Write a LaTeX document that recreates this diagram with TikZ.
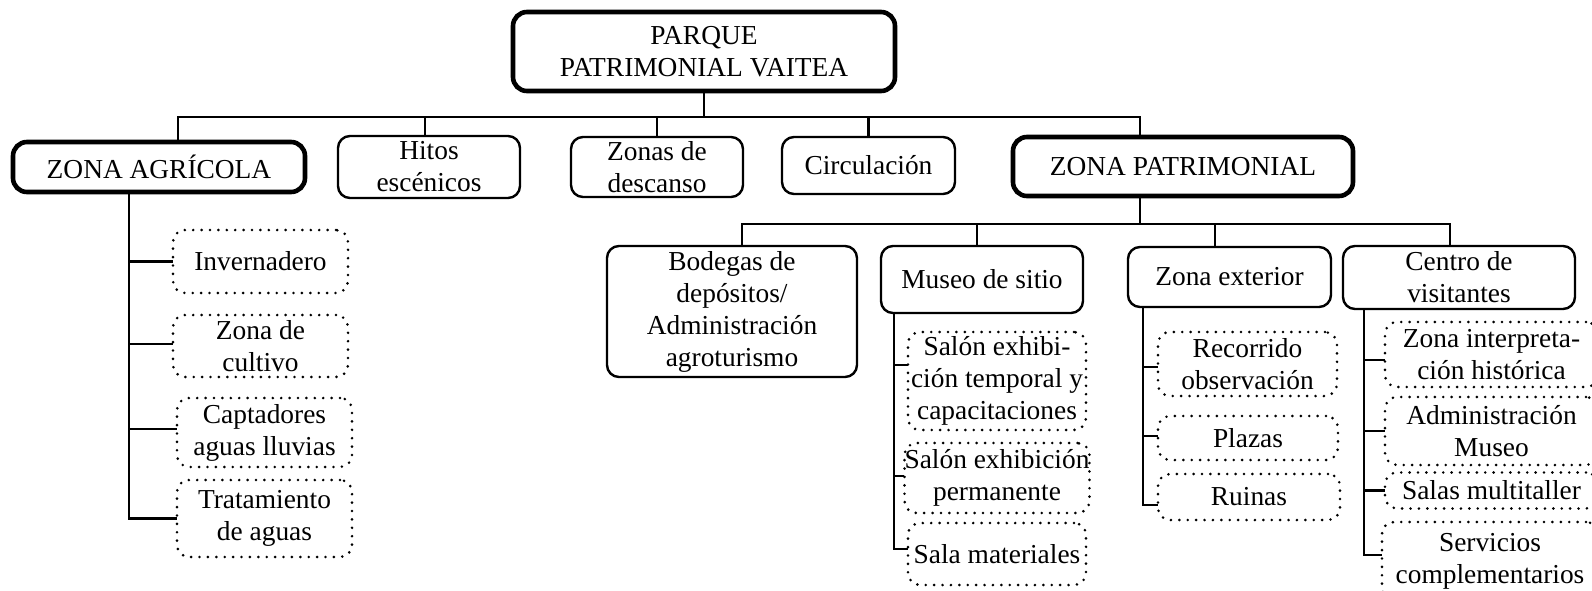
\documentclass[tikz,border=0pt]{standalone}
\usepackage{fontspec}
\setmainfont{Liberation Serif}
\usetikzlibrary{positioning}
\tikzset{
  wh/.style 2 args={minimum width=#1*0.5pt, minimum height=#2*0.5pt},
  basebox/.style={
    align=center, inner sep=0pt,
    font=\fontsize{13.7}{16}\selectfont
  },
  mainbox/.style={basebox, draw, line width=2.3pt, rounded corners=7pt},
  areabox/.style={basebox, draw, line width=1.2pt, rounded corners=6pt},
  itembox/.style={basebox, draw, line width=1.45pt, dash pattern=on 0pt off 4.2pt, line cap=round, rounded corners=6pt},
  link/.style={line width=1.2pt, line cap=rect}
}

\begin{document}
\begin{tikzpicture}[x=0.5pt, y=-0.5pt]

\useasboundingbox (0,0) rectangle (1592,590);
\clip (0,0) rectangle (1592,590);

% Root
\node[mainbox, wh={382}{79}] (root) at (704,51.5) {PARQUE\\PATRIMONIAL VAITEA};

% First level
\node[mainbox, wh={292}{50}] (agri) at (159,167) {ZONA AGRÍCOLA};
\node[areabox, wh={182}{62}] (hitos) at (429,167) {Hitos\\escénicos};
\node[areabox, wh={172}{60}] (desc) at (657,167) {Zonas de\\descanso};
\node[areabox, wh={173}{57}] (circ) at (868.5,165.5) {Circulación};
\node[mainbox, wh={340}{59}] (zpat) at (1183,166.5) {ZONA PATRIMONIAL};

% Zona patrimonial areas
\node[areabox, wh={250}{131}] (bod) at (732,311.5) {Bodegas de\\depósitos/\\Administración\\agroturismo};
\node[areabox, wh={202}{67}] (mus) at (982,279.5) {Museo de sitio};
\node[areabox, wh={203}{60}] (zext) at (1229.5,277) {Zona exterior};
\node[areabox, wh={232}{63}] (cvis) at (1459,277.5) {Centro de\\visitantes};

% Zona agricola items
\node[itembox, wh={175}{63}] (inv) at (260.5,261.5) {Invernadero};
\node[itembox, wh={175}{62}] (cult) at (260.5,346) {Zona de\\cultivo};
\node[itembox, wh={175}{69}] (capt) at (264.5,432.5) {Captadores\\aguas lluvias};
\node[itembox, wh={175}{77}] (trat) at (264.5,518.5) {Tratamiento\\de aguas};

% Museo items
\node[itembox, wh={178}{98}] (stemp) at (997,381) {Salón exhibi-\\ción temporal y\\capacitaciones};
\node[itembox, wh={178}{70}] (sperm) at (997,478) {Salón exhibición\\permanente};
\node[itembox, wh={178}{62}] (smat) at (997,554) {Sala materiales};

% Zona exterior items
\node[itembox, wh={179}{64}] (reco) at (1247.5,364) {Recorrido\\observación};
\node[itembox, wh={180}{44}] (plaz) at (1248,438) {Plazas};
\node[itembox, wh={182}{46}] (ruin) at (1249,497) {Ruinas};

% Centro de visitantes items
\node[itembox, wh={213}{65}] (zih) at (1491.5,354.5) {Zona interpreta-\\ción histórica};
\node[itembox, wh={213}{68}] (adm) at (1491.5,431) {Administración\\Museo};
\node[itembox, wh={213}{36}] (salas) at (1491.5,490.5) {Salas multitaller};
\node[itembox, wh={216}{78}] (serv) at (1490,561) {Servicios\\complementarios};

% Root -> first level
\coordinate (bus1) at (0,117);
\draw[link] (root.south) -- (root.south |- bus1);
\foreach \n/\dx in {agri/9.5pt, hitos/-2pt, desc/0pt, circ/0pt, zpat/-21.5pt} {
  \coordinate (\n-in) at ([xshift=\dx]\n.north);
  \draw[link] (\n-in) -- (\n-in |- bus1);
}
\draw[link] (agri-in |- bus1) -- (zpat-in |- bus1);

% Zona patrimonial -> areas
\coordinate (bus2) at (0,224);
\coordinate (zpat-out) at ([xshift=-21.5pt]zpat.south);
\draw[link] (zpat-out) -- (zpat-out |- bus2);
\foreach \n/\dx in {bod/5pt, mus/-2.5pt, zext/-7.25pt, cvis/-4.5pt} {
  \coordinate (\n-in) at ([xshift=\dx]\n.north);
  \draw[link] (\n-in) -- (\n-in |- bus2);
}
\draw[link] (bod-in |- bus2) -- (cvis-in |- bus2);

% Trunks to items
\foreach \p/\dx in {agri/-15pt, mus/-44pt, zext/-43.25pt, cvis/-47.5pt}
  \coordinate (\p-out) at ([xshift=\dx]\p.south);
\foreach \c/\p/\dy in {inv/agri/0pt, cult/agri/1pt, capt/agri/1.75pt, trat/agri/0pt,
    stemp/mus/8pt, sperm/mus/1pt, smat/mus/2.5pt,
    reco/zext/-1.5pt, plaz/zext/1pt, ruin/zext/-4pt,
    zih/cvis/-2.75pt, adm/cvis/0pt, salas/cvis/0pt, serv/cvis/3pt}
  \draw[link] ([yshift=\dy]\c.west) -| (\p-out);

\end{tikzpicture}
\end{document}
